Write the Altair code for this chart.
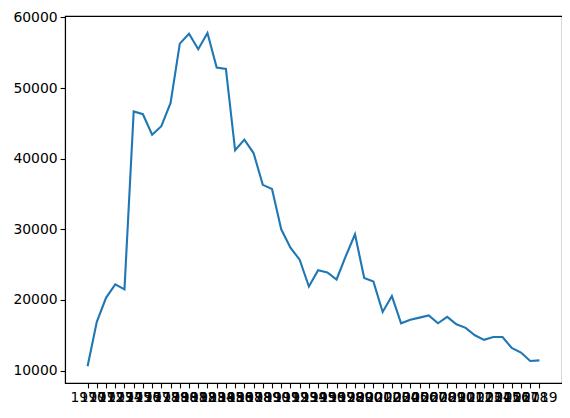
import altair as alt
import pandas as pd

years = list(range(1970, 2020))
values = [10600, 16900, 20300, 22200, 21500, 46700, 46300, 43400, 44600, 47900,
          56300, 57700, 55500, 57800, 52900, 52700, 41200, 42700, 40800, 36300,
          35700, 30000, 27400, 25700, 21900, 24200, 23900, 22900, 26200, 29300,
          23100, 22600, 18300, 20550, 16700, 17200, 17500, 17800, 16700, 17600,
          16550, 16050, 15000, 14350, 14750, 14750, 13200, 12550, 11350, 11450]
y_ticks = [10000, 20000, 30000, 40000, 50000, 60000]

df = pd.DataFrame({"year": years, "value": values})

chart = alt.Chart(df).mark_line(color="#1f77b4", strokeWidth=2.1).encode(
    x=alt.X("year:Q",
            scale=alt.Scale(domain=[1970 - 2.45, 2019 + 2.45], nice=False, zero=False),
            axis=alt.Axis(title=None, values=years, format="d", labelAngle=0,
                          labelOverlap=False, labelFlush=False,
                          labelFont="DejaVu Sans", labelFontSize=13.9,
                          labelColor="black", tickColor="black", domainColor="black",
                          tickSize=4.9, tickWidth=1.1, domainWidth=1.1, labelPadding=3,
                          grid=False)),
    y=alt.Y("value:Q",
            scale=alt.Scale(domain=[8240, 60210], nice=False, zero=False),
            axis=alt.Axis(title=None, values=y_ticks, format="d",
                          labelFont="DejaVu Sans", labelFontSize=13.9,
                          labelColor="black", tickColor="black", domainColor="black",
                          tickSize=4.9, tickWidth=1.1, domainWidth=1.1, labelPadding=3,
                          grid=False)),
).properties(
    width=497, height=367,
    background="white",
    autosize=alt.AutoSizeParams(type="none"),
    padding={"left": 57, "top": 8, "right": 0, "bottom": 35},
).configure_view(stroke="black", strokeWidth=1.1)

chart.save("out.html", embed_options={"renderer": "svg", "actions": False})
